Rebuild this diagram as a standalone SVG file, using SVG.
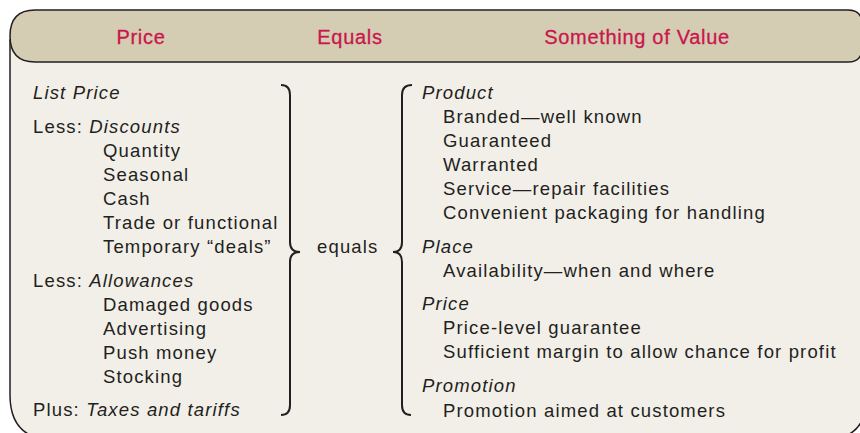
<svg xmlns="http://www.w3.org/2000/svg" width="860" height="433" viewBox="0 0 860 433">
<style>
.hd{font-family:"Liberation Sans",Arial,sans-serif;font-size:20px;fill:#c8174a;stroke:#c8174a;stroke-width:0.3;text-anchor:middle;letter-spacing:0.7px}
.t{font-family:"Liberation Sans",Arial,sans-serif;font-size:18.5px;fill:#231f20;letter-spacing:1.15px}
.i{font-style:italic}
.br{fill:none;stroke:#231f20;stroke-width:2}
</style>
<rect width="860" height="433" fill="#ffffff"/>
<g id="frame">
<path d="M10,40 V395 Q10,440 55,440 H822 Q866,440 866,400 V40 Z" fill="#f2efe9" stroke="#231f20" stroke-width="1.5"/>
<path d="M35,10 H848 Q862,10 862,24 V48 Q862,62 848,62 H35 Q10,62 10,36 Q10,10 35,10 Z" fill="#d5ccb4" stroke="#231f20" stroke-width="1.5"/>
</g>
<g id="header">
<text class="hd" x="141" y="44">Price</text>
<text class="hd" x="350" y="44">Equals</text>
<text class="hd" x="637" y="44">Something of Value</text>
</g>
<g id="price">
<text class="t i" x="33" y="99">List Price</text>
<text class="t" x="33" y="133">Less: <tspan class="i">Discounts</tspan></text>
<text class="t" x="103" y="157">Quantity</text>
<text class="t" x="103" y="181">Seasonal</text>
<text class="t" x="103" y="205">Cash</text>
<text class="t" x="103" y="229">Trade or functional</text>
<text class="t" x="103" y="253">Temporary “deals”</text>
<text class="t" x="33" y="287">Less: <tspan class="i">Allowances</tspan></text>
<text class="t" x="103" y="311">Damaged goods</text>
<text class="t" x="103" y="335">Advertising</text>
<text class="t" x="103" y="359">Push money</text>
<text class="t" x="103" y="383">Stocking</text>
<text class="t" x="33" y="416">Plus: <tspan class="i">Taxes and tariffs</tspan></text>
</g>
<g id="equals">
<text class="t" x="317" y="253">equals</text>
</g>
<g id="value">
<text class="t i" x="422" y="99">Product</text>
<text class="t" x="443" y="123">Branded—well known</text>
<text class="t" x="443" y="147">Guaranteed</text>
<text class="t" x="443" y="171">Warranted</text>
<text class="t" x="443" y="195">Service—repair facilities</text>
<text class="t" x="443" y="219">Convenient packaging for handling</text>
<text class="t i" x="422" y="253">Place</text>
<text class="t" x="443" y="277">Availability—when and where</text>
<text class="t i" x="422" y="310">Price</text>
<text class="t" x="443" y="334">Price-level guarantee</text>
<text class="t" x="443" y="358">Sufficient margin to allow chance for profit</text>
<text class="t i" x="422" y="392">Promotion</text>
<text class="t" x="443" y="417">Promotion aimed at customers</text>
</g>
<g id="connectors">
<path class="br" d="M281,85 Q290,85 290,95 V242 Q290,252 300,252 Q290,252 290,262 V405 Q290,415 281,415"/>
<path class="br" d="M412,85 Q402,85 402,95 V242 Q402,252 393,252 Q402,252 402,262 V405 Q402,415 411,415"/>
</g>
</svg>
